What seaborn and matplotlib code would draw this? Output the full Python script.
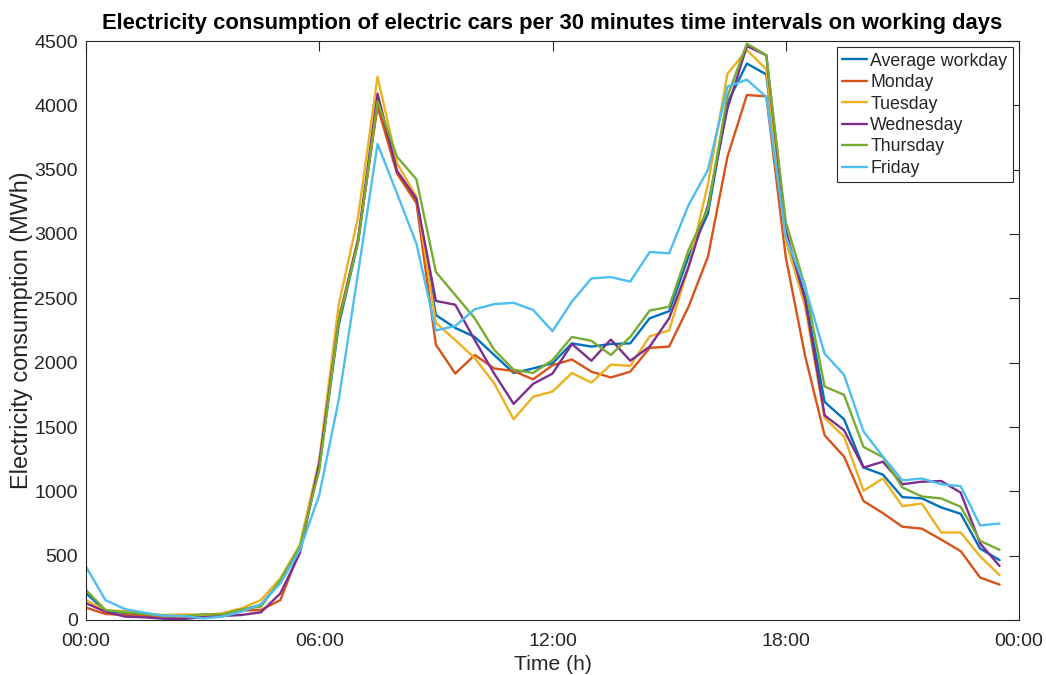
import numpy as np
import pandas as pd
import matplotlib
matplotlib.use("Agg")
import matplotlib.pyplot as plt
import seaborn as sns

# Half-hour time slots, 00:00 .. 23:30, in hours
hours = np.arange(48) * 0.5

average_workday = [207, 73, 52, 44, 31, 31, 36, 39, 78, 117, 298, 570,
                   1190, 2290, 2940, 4030, 3485, 3270, 2370, 2270, 2200, 2060, 1920, 1955,
                   1995, 2150, 2125, 2145, 2150, 2345, 2400, 2825, 3160, 4020, 4325, 4240,
                   3000, 2510, 1695, 1560, 1185, 1130, 955, 945, 875, 825, 555, 465]
monday = [96, 47, 39, 31, 26, 26, 26, 44, 73, 78, 155, 544,
          1217, 2340, 2960, 3990, 3470, 3240, 2140, 1915, 2060, 1955, 1935, 1870,
          1980, 2025, 1930, 1885, 1930, 2115, 2125, 2435, 2825, 3600, 4080, 4070,
          2820, 2050, 1435, 1270, 925, 830, 725, 710, 625, 535, 330, 275]
tuesday = [155, 73, 70, 52, 39, 44, 39, 52, 91, 155, 324, 583,
           1243, 2450, 3135, 4222, 3550, 3290, 2310, 2175, 2035, 1840, 1560, 1735,
           1775, 1920, 1845, 1985, 1975, 2205, 2250, 2745, 3390, 4245, 4430, 4280,
           2950, 2435, 1570, 1425, 1005, 1100, 885, 905, 680, 680, 495, 350]
wednesday = [130, 65, 26, 21, 10, 8, 21, 31, 39, 60, 207, 518,
             1217, 2320, 2960, 4090, 3490, 3275, 2480, 2450, 2175, 1915, 1680, 1835,
             1915, 2145, 2015, 2180, 2015, 2125, 2345, 2745, 3225, 3975, 4460, 4390,
             3030, 2485, 1590, 1475, 1185, 1230, 1055, 1075, 1080, 990, 595, 420]
thursday = [233, 78, 60, 47, 31, 31, 44, 44, 83, 104, 311, 570,
            1165, 2320, 2940, 4030, 3600, 3425, 2705, 2525, 2345, 2100, 1945, 1920,
            2020, 2200, 2170, 2060, 2200, 2405, 2435, 2875, 3200, 4070, 4480, 4390,
            3095, 2590, 1815, 1750, 1345, 1265, 1030, 960, 945, 880, 615, 545]
friday = [414, 155, 85, 57, 34, 31, 13, 26, 65, 124, 285, 544,
          970, 1710, 2700, 3700, 3315, 2925, 2250, 2285, 2415, 2455, 2465, 2410,
          2245, 2475, 2655, 2665, 2630, 2860, 2850, 3225, 3500, 4145, 4200, 4065,
          2980, 2585, 2070, 1905, 1465, 1270, 1085, 1100, 1055, 1040, 735, 750]

series_names = ["Average workday", "Monday", "Tuesday", "Wednesday", "Thursday", "Friday"]
series_values = [average_workday, monday, tuesday, wednesday, thursday, friday]
series_colors = ["#0072BD", "#D95319", "#EDB120", "#7E2F8E", "#77AC30", "#4DBEEE"]

xtick_pos = [0, 6, 12, 18, 24]
xtick_labels = ["00:00", "06:00", "12:00", "18:00", "00:00"]
ytick_pos = list(range(0, 4501, 500))

df = pd.concat(
    [pd.DataFrame({"hour": hours, "mwh": vals, "day": name})
     for name, vals in zip(series_names, series_values)],
    ignore_index=True,
)

sns.set_style("white")
plt.rcParams["font.family"] = ["Liberation Sans", "DejaVu Sans"]

W, H = 1046, 675
fig = plt.figure(figsize=(W / 100, H / 100), dpi=100)
ax = fig.add_axes([86 / W, 1 - 620 / H, (1019 - 86) / W, (620 - 41) / H])

sns.lineplot(data=df, x="hour", y="mwh", hue="day", hue_order=series_names,
             palette=series_colors, linewidth=1.7, ax=ax, legend=True)

edge = "#262626"
ax.set_xlim(0, 24)
ax.set_ylim(0, 4500)
ax.set_xticks(xtick_pos)
ax.set_xticklabels(xtick_labels)
ax.set_yticks(ytick_pos)
ax.tick_params(axis="both", which="both", direction="in", length=7, width=0.8,
               colors=edge, labelsize=14, top=True, right=True)
ax.tick_params(axis="x", pad=9)
ax.tick_params(axis="y", pad=6)
for side in ["left", "right", "top", "bottom"]:
    ax.spines[side].set_visible(True)
    ax.spines[side].set_color(edge)
    ax.spines[side].set_linewidth(0.8)

ax.set_xlabel("Time (h)", fontsize=15.2, color=edge, labelpad=4)
ax.set_ylabel("Electricity consumption (MWh)", fontsize=16.9, color=edge, labelpad=1)
ax.set_title("Electricity consumption of electric cars per 30 minutes time intervals on working days",
             fontsize=15.8, fontweight="bold", color="black", pad=9)

handles, labels = ax.get_legend_handles_labels()
leg = ax.legend(handles, labels, loc="upper right",
                bbox_to_anchor=(1012.7 / W, 1 - 47.3 / H), bbox_transform=fig.transFigure,
                borderaxespad=0, fontsize=12.8, frameon=True, fancybox=False,
                edgecolor=edge, handlelength=1.4, handletextpad=0.2,
                labelspacing=0.25, borderpad=0.3)
leg.get_frame().set_linewidth(0.8)
leg.get_frame().set_alpha(1)
for line in leg.get_lines():
    line.set_linewidth(1.7)

fig.savefig("out.png", dpi=100)
